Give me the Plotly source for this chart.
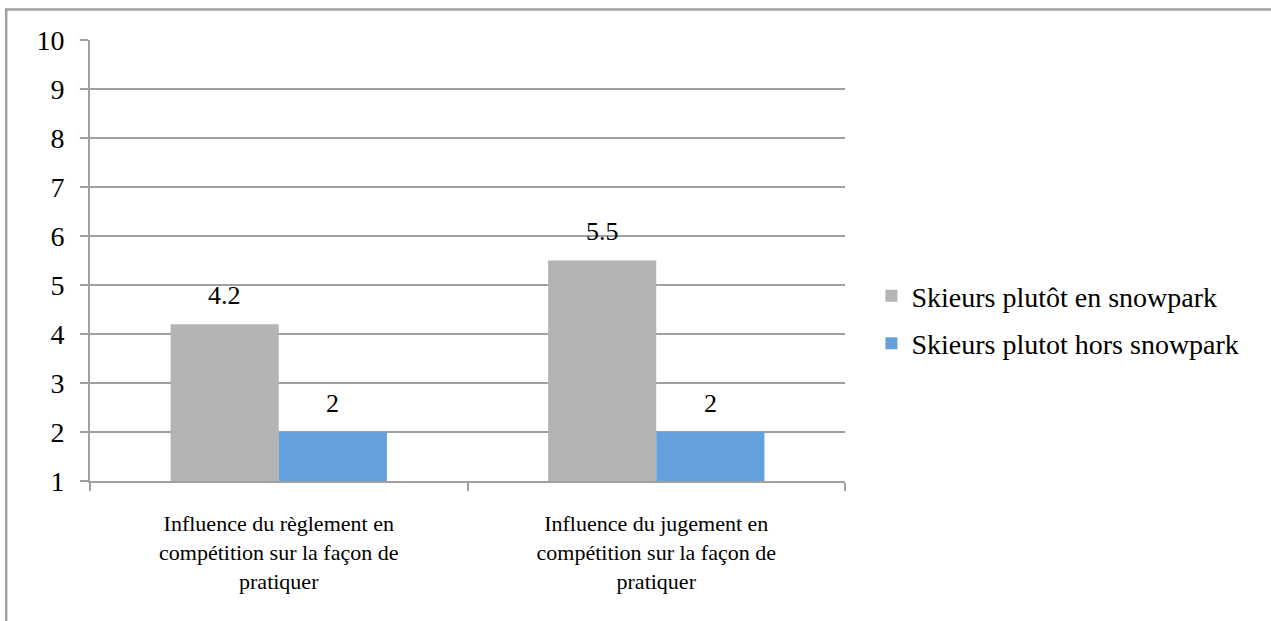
import plotly.graph_objects as go

categories = [
    "Influence du règlement en<br>compétition sur la façon de<br>pratiquer",
    "Influence du jugement en<br>compétition sur la façon de<br>pratiquer",
]
series_names = ["Skieurs plutôt en snowpark", "Skieurs plutot hors snowpark"]
snowpark = [4.2, 5.5]
hors_snowpark = [2, 2]
y_ticks = list(range(1, 11))

colors = ["#b4b4b4", "#64a0dc"]
grid = "#a0a0a0"
font_family = "'Liberation Serif', 'DejaVu Serif', serif"

fig = go.Figure()
for i, (name, vals) in enumerate(zip(series_names, [snowpark, hors_snowpark])):
    fig.add_trace(go.Bar(
        x=categories, y=vals, name=name, marker_color=colors[i],
        marker_line_width=0, legendgroup=f"g{i}",
    ))
    shift = -54 if i == 0 else 54
    for c, v in zip(categories, vals):
        fig.add_annotation(x=c, y=v, text=f"{v:g}", showarrow=False,
                           xshift=shift, yshift=29, yanchor="middle",
                           font=dict(family=font_family, size=26, color="black"))

fig.update_layout(
    width=1271, height=621,
    margin=dict(l=90, r=426, t=40, b=140),
    paper_bgcolor="white", plot_bgcolor="white",
    barmode="group", bargap=0.427, bargroupgap=0,
    font=dict(family=font_family, color="black"),
    legend=dict(x=1.035, y=0.366, xanchor="left", yanchor="middle",
                font=dict(size=28, family=font_family), tracegroupgap=8,
                traceorder="grouped", itemwidth=30, bgcolor="rgba(0,0,0,0)"),
    showlegend=True,
)
fig.update_yaxes(range=[1, 10], tickvals=y_ticks, showgrid=True, gridcolor=grid,
                 gridwidth=2, showline=True, linecolor=grid, linewidth=2,
                 ticks="outside", ticklen=8, tickcolor=grid, tickwidth=2,
                 tickfont=dict(size=28, family=font_family), ticklabelstandoff=10,
                 zeroline=False, fixedrange=True)
fig.update_xaxes(type="category", tickson="boundaries", showline=True, linecolor=grid,
                 linewidth=2, ticks="outside", ticklen=8, tickcolor=grid, tickwidth=2,
                 tickfont=dict(size=22, family=font_family), ticklabelstandoff=22,
                 showgrid=False, fixedrange=True)

fig.add_shape(type="rect", xref="paper", yref="paper",
              x0=-0.111, y0=-0.5, x1=1.6, y1=1.069,
              line=dict(color=grid, width=2.5), layer="below")

fig.write_html("out.html", config={"displayModeBar": False},
               post_script="document.body.style.margin='0';document.body.style.overflow='hidden';")
